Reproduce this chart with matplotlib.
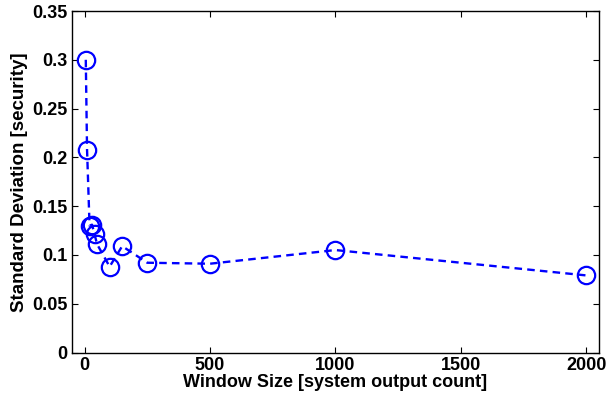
import numpy as np
import matplotlib
matplotlib.use("Agg")
import matplotlib.pyplot as plt
from matplotlib.ticker import FormatStrFormatter

# window size vs. std deviation
window_size = [5, 10, 20, 30, 40, 50, 100, 150, 250, 500, 1000, 2000]
std_dev = [0.300, 0.208, 0.130, 0.131, 0.121, 0.111, 0.088, 0.109, 0.092, 0.091, 0.105, 0.079]

x_ticks = [0, 500, 1000, 1500, 2000]
y_ticks = [0, 0.05, 0.1, 0.15, 0.2, 0.25, 0.3, 0.35]

plt.rcParams['font.family'] = ['Liberation Sans', 'DejaVu Sans']
plt.rcParams['font.weight'] = 'bold'

fig = plt.figure(figsize=(6.07, 4.03), dpi=100)
ax = fig.add_axes([0.1186, 0.1253, 0.868, 0.8474])

ax.plot(window_size, std_dev, linestyle='--', color='#0000ff', linewidth=1.7,
        marker='o', markersize=12.5, markerfacecolor='none',
        markeredgecolor='#0000ff', markeredgewidth=1.6, dashes=(3.2, 2.2))

ax.set_xlim(-50, 2050)
ax.set_ylim(0, 0.35)
ax.set_xticks(x_ticks)
ax.set_yticks(y_ticks)
ax.yaxis.set_major_formatter(FormatStrFormatter('%g'))
ax.tick_params(direction='in', top=True, right=True, length=4, width=0.8,
               labelsize=13, pad=3)
for lab in ax.get_xticklabels() + ax.get_yticklabels():
    lab.set_fontweight('bold')
for s in ax.spines.values():
    s.set_linewidth(1.0)

ax.set_xlabel('Window Size [system output count]', fontsize=13, fontweight='bold', labelpad=0)
ax.set_ylabel('Standard Deviation [security]', fontsize=13.5, fontweight='bold', labelpad=3)

fig.savefig('out.png', dpi=100)
